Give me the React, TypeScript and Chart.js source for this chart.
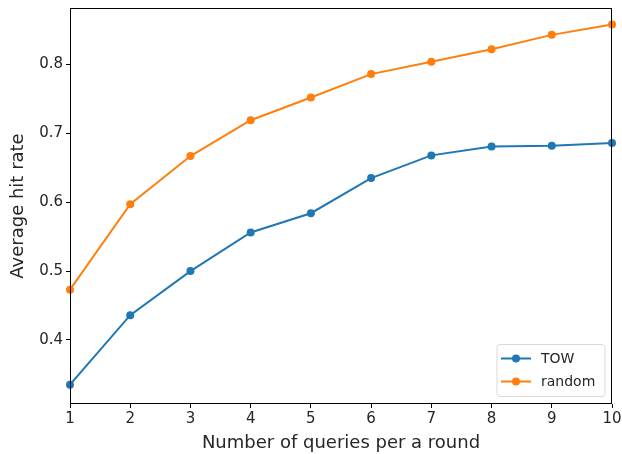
import React, { useEffect, useRef } from "react";
import { Chart, registerables } from "chart.js";

Chart.register(...registerables);

const queriesPerRound = [1, 2, 3, 4, 5, 6, 7, 8, 9, 10];
const towHitRate = [0.335, 0.436, 0.5, 0.556, 0.584, 0.635, 0.668, 0.681, 0.682, 0.686];
const randomHitRate = [0.473, 0.597, 0.667, 0.719, 0.752, 0.786, 0.804, 0.822, 0.843, 0.858];
const seriesNames = ["TOW", "random"];
const yTicks = [0.4, 0.5, 0.6, 0.7, 0.8];
const xTitle = "Number of queries per a round";
const yTitle = "Average hit rate";

const BLUE = "#1f77b4";
const ORANGE = "#ff7f0e";
const FONT = "'DejaVu Sans', sans-serif";
const TEXT = "#262626";

const frameAndLegend = {
  id: "frameAndLegend",
  afterDatasetsDraw(chart: any) {
    const { ctx, chartArea: a } = chart;
    ctx.save();
    ctx.strokeStyle = "#000";
    ctx.lineWidth = 1;
    ctx.strokeRect(Math.round(a.left) + 0.5, Math.round(a.top) + 0.5, Math.round(a.right - a.left) - 1, Math.round(a.bottom - a.top) - 1);
    const w = 108, h = 52;
    const x0 = a.right - 7 - w;
    const y0 = a.bottom - 7.5 - h;
    ctx.fillStyle = "rgba(255,255,255,0.8)";
    ctx.strokeStyle = "#d9d9d9";
    ctx.lineWidth = 1;
    const r = 3;
    ctx.beginPath();
    ctx.moveTo(x0 + r, y0);
    ctx.lineTo(x0 + w - r, y0);
    ctx.quadraticCurveTo(x0 + w, y0, x0 + w, y0 + r);
    ctx.lineTo(x0 + w, y0 + h - r);
    ctx.quadraticCurveTo(x0 + w, y0 + h, x0 + w - r, y0 + h);
    ctx.lineTo(x0 + r, y0 + h);
    ctx.quadraticCurveTo(x0, y0 + h, x0, y0 + h - r);
    ctx.lineTo(x0, y0 + r);
    ctx.quadraticCurveTo(x0, y0, x0 + r, y0);
    ctx.closePath();
    ctx.fill();
    ctx.stroke();
    chart.data.datasets.forEach((ds: any, i: number) => {
      const cy = y0 + 14 + i * 23;
      ctx.strokeStyle = ds.borderColor;
      ctx.lineWidth = 2;
      ctx.beginPath();
      ctx.moveTo(x0 + 4, cy);
      ctx.lineTo(x0 + 34, cy);
      ctx.stroke();
      ctx.fillStyle = ds.borderColor;
      ctx.beginPath();
      ctx.arc(x0 + 19, cy, 4, 0, Math.PI * 2);
      ctx.fill();
      ctx.fillStyle = TEXT;
      ctx.font = `14px ${FONT}`;
      ctx.textBaseline = "middle";
      ctx.textAlign = "left";
      ctx.fillText(ds.label, x0 + 44, cy + 0.5);
    });
    ctx.restore();
  },
};

export default function App() {
  const ref = useRef<HTMLCanvasElement>(null);
  useEffect(() => {
    if (!ref.current) return;
    const chart = new Chart(ref.current, {
      type: "line",
      data: {
        datasets: [
          {
            label: seriesNames[0],
            data: queriesPerRound.map((x, i) => ({ x, y: towHitRate[i] })),
            borderColor: BLUE,
            backgroundColor: BLUE,
            borderWidth: 2,
            pointRadius: 4,
            pointBorderWidth: 0,
            tension: 0,
          },
          {
            label: seriesNames[1],
            data: queriesPerRound.map((x, i) => ({ x, y: randomHitRate[i] })),
            borderColor: ORANGE,
            backgroundColor: ORANGE,
            borderWidth: 2,
            pointRadius: 4,
            pointBorderWidth: 0,
            tension: 0,
          },
        ],
      },
      options: {
        animation: false,
        responsive: false,
        clip: false as any,
        layout: { padding: { top: 8, right: 10, left: 0, bottom: 0 } },
        plugins: { legend: { display: false }, tooltip: { enabled: false } },
        scales: {
          x: {
            type: "linear",
            min: 1,
            max: 10,
            afterBuildTicks: (s: any) => {
              s.ticks = queriesPerRound.map((v) => ({ value: v }));
            },
            afterFit: (s: any) => {
              s.height = 50;
              s.paddingLeft = 0;
              s.paddingRight = 0;
            },
            grid: { display: true, drawOnChartArea: false, drawTicks: true, tickLength: 4, color: "#000" },
            border: { display: false },
            ticks: { color: TEXT, font: { family: FONT, size: 15 }, padding: 2, maxRotation: 0, autoSkip: false },
            title: { display: true, text: xTitle, color: TEXT, font: { family: FONT, size: 18 }, padding: { top: 0, bottom: 0 } },
          },
          y: {
            type: "linear",
            min: 0.307,
            max: 0.882,
            afterBuildTicks: (s: any) => {
              s.ticks = yTicks.map((v) => ({ value: v }));
            },
            afterFit: (s: any) => {
              s.width = 70;
              s.paddingTop = 0;
              s.paddingBottom = 0;
            },
            grid: { display: true, drawOnChartArea: false, drawTicks: true, tickLength: 4, color: "#000" },
            border: { display: false },
            ticks: { color: TEXT, font: { family: FONT, size: 15 }, padding: 3, callback: (v: any) => Number(v).toFixed(1) },
            title: { display: true, text: yTitle, color: TEXT, font: { family: FONT, size: 18 }, padding: { top: 8, bottom: 2 } },
          },
        },
      },
      plugins: [frameAndLegend],
    });
    return () => chart.destroy();
  }, []);
  return (
    <div style={{ position: "fixed", left: 0, top: 0, width: 622, height: 454, background: "#fff" }}>
      <canvas ref={ref} width={622} height={454} style={{ display: "block" }} />
    </div>
  );
}
